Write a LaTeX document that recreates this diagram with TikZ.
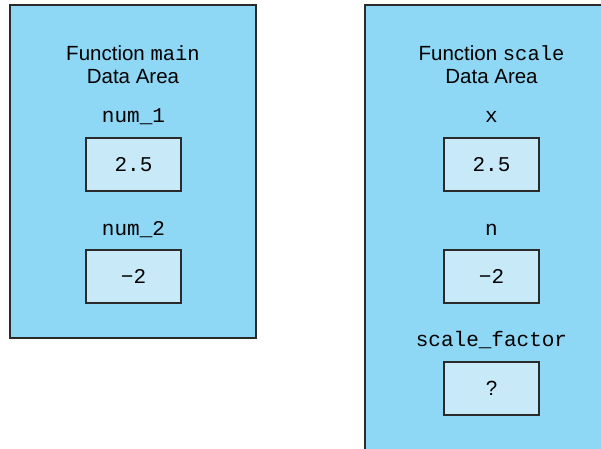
\documentclass[tikz,border=0pt]{standalone}
\usepackage{fontspec}
\setmainfont{Liberation Sans}
\setmonofont{Liberation Mono}
\definecolor{areablue}{HTML}{8ED8F6}
\definecolor{cellblue}{HTML}{C8EAF8}
\definecolor{edge}{HTML}{2A2A2A}
\begin{document}
\begin{tikzpicture}[x=1pt,y=-1pt,
  area/.style={draw=edge,line width=2pt,fill=areablue,inner sep=0pt,minimum width=246pt},
  cell/.style={draw=edge,line width=2pt,fill=cellblue,minimum width=95pt,minimum height=53pt,inner sep=0pt,font=\fontsize{21}{25}\ttfamily},
  title/.style={align=center,font=\fontsize{20.5}{23}\selectfont,anchor=base,inner sep=0pt},
  vlabel/.style={font=\fontsize{21}{25}\ttfamily,anchor=base,inner sep=0pt}]
\useasboundingbox (0,0) rectangle (601,448);
\clip (0,0) rectangle (601,448);
% areas
\node[area,minimum height=333pt] (mainA) at (133,171.5) {};
\node[area,minimum height=500pt] (scaleA) at (488,255) {};
% main
\node[title] (mainT) at (133,83) {Function \texttt{main}\\Data Area};
\node[vlabel] (l1) at (133.5,122) {num\_1};
\node[cell] (c1) at (133.5,164.5) {2.5};
\node[vlabel] (l2) at (133.5,235) {num\_2};
\node[cell] (c2) at (133.5,276.5) {−2};
% scale
\node[title] (scaleT) at (491.5,83) {Function \texttt{scale}\\Data Area};
\node[vlabel] (l3) at (491.5,122) {x};
\node[cell] (c3) at (491.5,164.5) {2.5};
\node[vlabel] (l4) at (491.5,235) {n};
\node[cell] (c4) at (491.5,276.5) {−2};
\node[vlabel] (l5) at (491.5,346) {scale\_factor};
\node[cell,font=\fontsize{20.5}{23}\selectfont] (c5) at (491.5,388.5) {?};
\end{tikzpicture}
\end{document}
